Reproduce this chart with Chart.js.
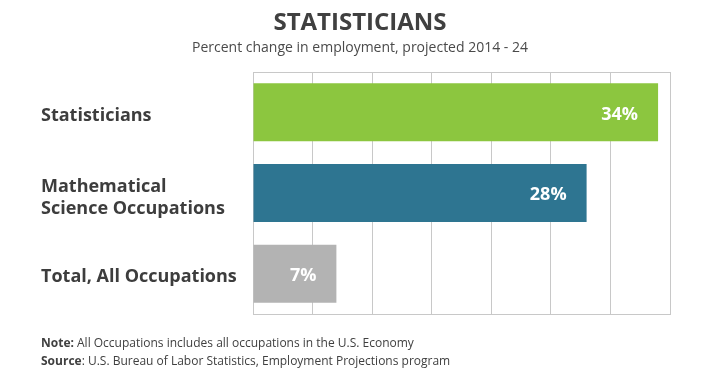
<!DOCTYPE html>
<html><head><meta charset="utf-8">
<script src="https://cdn.jsdelivr.net/npm/chart.js@4"></script>
<style>
html,body{margin:0;padding:0;background:#fff;}
#wrap{position:relative;width:720px;height:379px;}
canvas{display:block}
#note{position:absolute;left:41px;top:334px;font-family:'Open Sans',sans-serif;font-size:12px;color:#404040;line-height:17.5px;white-space:nowrap}
</style></head><body>
<div id="wrap"><canvas id="c" width="720" height="379"></canvas>
<div id="note"><div><b>Note:</b> All Occupations includes all occupations in the U.S. Economy</div><div><b>Source</b>: U.S. Bureau of Labor Statistics, Employment Projections program</div></div></div>
<script>
const categories = ['Statisticians', ['Mathematical', 'Science Occupations'], 'Total, All Occupations'];
const percentChange = [34, 28, 7];
const axisMin = 0;
const axisMax = 35;
const axisStep = 5;

const barColors = ['#8cc63f', '#2e7591', '#b3b3b3'];
const labelGap = 9; // distance from y-scale box left to label start (41px from canvas edge)

Chart.defaults.font.family = "'Open Sans', sans-serif";

const plotFrame = {
  id: 'plotFrame',
  beforeDatasetsDraw(chart) {
    const {ctx, chartArea: a} = chart;
    ctx.save();
    ctx.strokeStyle = '#c8c8c8';
    ctx.lineWidth = 1;
    ctx.strokeRect(Math.round(a.left) + 0.5, Math.round(a.top) + 0.5, Math.round(a.right - a.left), Math.round(a.bottom - a.top));
    ctx.restore();
  }
};

const categoryLabels = {
  id: 'categoryLabels',
  afterDraw(chart) {
    const {ctx} = chart;
    const y = chart.scales.y;
    const size = 18, capH = size * 0.714, lineGap = 21.5;
    ctx.save();
    ctx.font = "bold " + size + "px 'Open Sans'";
    ctx.fillStyle = '#3d3d3d';
    ctx.textAlign = 'left';
    ctx.textBaseline = 'alphabetic';
    y.ticks.forEach((t, i) => {
      const lbl = categories[i];
      const lines = Array.isArray(lbl) ? lbl : [lbl];
      const c = y.getPixelForTick(i) + 2 + (lines.length - 1) * 1.5;
      lines.forEach((ln, j) => {
        const cc = c + (j - (lines.length - 1) / 2) * lineGap;
        ctx.fillText(ln, y.left - labelGap, cc + capH / 2);
      });
    });
    ctx.restore();
  }
};

const valueLabels = {
  id: 'valueLabels',
  afterDatasetsDraw(chart) {
    const {ctx} = chart;
    const meta = chart.getDatasetMeta(0);
    const size = 18, capH = size * 0.714;
    ctx.save();
    ctx.font = "bold " + size + "px 'Open Sans'";
    ctx.fillStyle = '#ffffff';
    ctx.textAlign = 'right';
    ctx.textBaseline = 'alphabetic';
    meta.data.forEach((bar, i) => {
      ctx.fillText(percentChange[i] + '%', bar.x - 20, bar.y + 1 + capH / 2);
    });
    ctx.restore();
  }
};

new Chart(document.getElementById('c'), {
  type: 'bar',
  data: {
    labels: categories,
    datasets: [{
      data: percentChange,
      backgroundColor: barColors,
      borderWidth: 0,
      barPercentage: 0.72,
      categoryPercentage: 1
    }]
  },
  options: {
    indexAxis: 'y',
    responsive: false,
    animation: false,
    devicePixelRatio: 1,
    layout: {padding: {left: 50, right: 50, top: 0, bottom: 65}},
    plugins: {
      legend: {display: false},
      tooltip: {enabled: false},
      title: {
        display: true,
        text: 'STATISTICIANS',
        color: '#404040',
        font: {size: 24, weight: 'bold'},
        padding: {top: 9, bottom: 0}
      },
      subtitle: {
        display: true,
        text: 'Percent change in employment, projected 2014 - 24',
        color: '#4a4a4a',
        font: {size: 14},
        padding: {top: 2, bottom: 15.4}
      }
    },
    scales: {
      x: {
        min: axisMin,
        max: axisMax,
        ticks: {display: false, stepSize: axisStep},
        grid: {color: '#c8c8c8', lineWidth: 1, drawTicks: false},
        border: {display: false},
        afterFit(s) { s.height = 0; }
      },
      y: {
        ticks: {display: false},
        grid: {display: false},
        border: {display: false},
        afterFit(s) { s.width = 203; }
      }
    }
  },
  plugins: [plotFrame, categoryLabels, valueLabels]
});
</script>
</body></html>
